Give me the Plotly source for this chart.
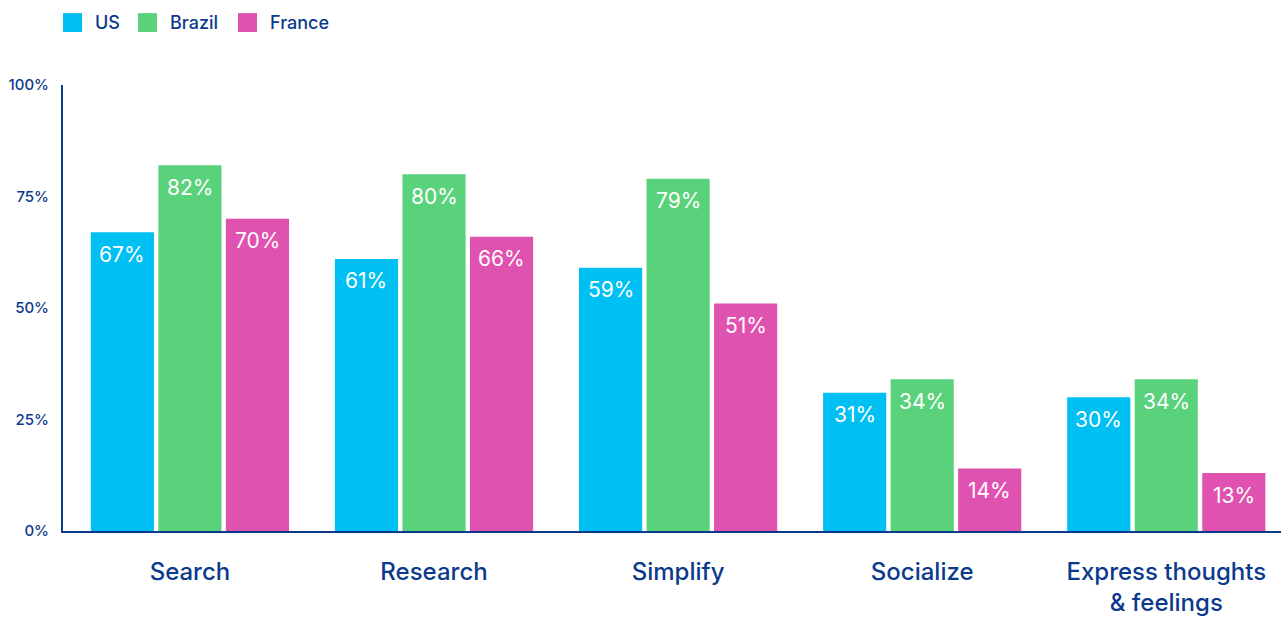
import plotly.graph_objects as go

categories = ["Search", "Research", "Simplify", "Socialize", "Express thoughts<br>& feelings"]
countries = ["US", "Brazil", "France"]
us_values = [67, 61, 59, 31, 30]
brazil_values = [82, 80, 79, 34, 34]
france_values = [70, 66, 51, 14, 13]
tick_values = [0, 25, 50, 75, 100]
tick_labels = ["0%", "25%", "50%", "75%", "100%"]

series = [us_values, brazil_values, france_values]
colors = ["#00C0F3", "#5AD27C", "#E052B0"]
navy = "#0B3A8C"
font_family = "Inter, Roboto, sans-serif"

W, H = 1281, 617
M_L, M_R, M_T, M_B = 63, 0, 85, 82
plot_w = W - M_L - M_R
plot_h = H - M_T - M_B

BARGAP = 0.17
GROUPGAP = 0.065
slot = (1 - BARGAP) / len(series)

fig = go.Figure()
annotations = []
for k, (name, vals, col) in enumerate(zip(countries, series, colors)):
    fig.add_trace(go.Bar(
        x=list(range(len(categories))),
        y=vals,
        name=name,
        marker=dict(color=col, line=dict(width=0)),
        showlegend=False,
        hoverinfo="skip",
    ))
    offset = (k - (len(series) - 1) / 2) * slot
    for i, v in enumerate(vals):
        annotations.append(dict(
            x=i + offset, y=v, xref="x", yref="y",
            text=f"{v}%", showarrow=False,
            yanchor="middle", yshift=-22,
            font=dict(color="white", size=21, family=font_family, weight=400),
        ))

# legend row: coloured squares with country names
legend_x = [63, 138, 238]
legend_cy = 22
sq = 19
shapes = []
for lx, name, col in zip(legend_x, countries, colors):
    shapes.append(dict(
        type="rect", xref="paper", yref="paper",
        x0=(lx - M_L) / plot_w, x1=(lx + sq - M_L) / plot_w,
        y0=(H - M_B - (legend_cy + sq / 2)) / plot_h,
        y1=(H - M_B - (legend_cy - sq / 2)) / plot_h,
        fillcolor=col, line=dict(width=0),
    ))
    annotations.append(dict(
        x=(lx + sq + 11 - M_L) / plot_w, y=(H - M_B - legend_cy) / plot_h,
        xref="paper", yref="paper", xanchor="left", yanchor="middle",
        text=name, showarrow=False,
        font=dict(color=navy, size=18, family=font_family, weight=500),
    ))

fig.update_layout(
    width=W, height=H,
    margin=dict(l=M_L, r=M_R, t=M_T, b=M_B),
    paper_bgcolor="white", plot_bgcolor="white",
    barmode="group", bargap=BARGAP, bargroupgap=GROUPGAP,
    font=dict(family=font_family, color=navy),
    showlegend=False,
    shapes=shapes,
    annotations=annotations,
    xaxis=dict(
        range=[-0.52, 4.47],
        tickmode="array",
        tickvals=list(range(len(categories))),
        ticktext=categories,
        tickfont=dict(size=24, color=navy, family=font_family, weight=500),
        showgrid=False, zeroline=False,
        showline=True, linecolor=navy, linewidth=2,
        ticks="", ticklabelstandoff=18,
    ),
    yaxis=dict(
        range=[0, 100],
        tickmode="array", tickvals=tick_values, ticktext=tick_labels,
        tickfont=dict(size=15, color=navy, family=font_family, weight=500),
        showgrid=False, zeroline=False,
        showline=True, linecolor=navy, linewidth=2,
        ticks="", ticklabelstandoff=9,
    ),
)

fig.write_html("out.html")
